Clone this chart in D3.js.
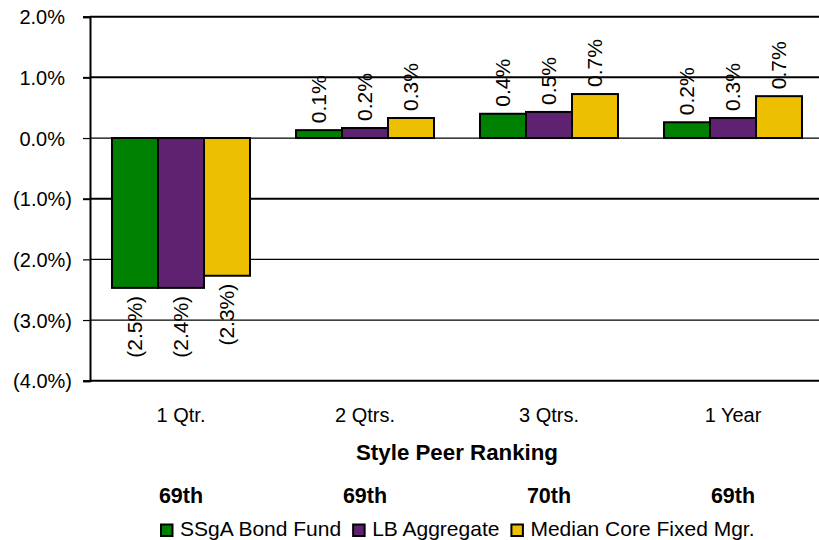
<!DOCTYPE html>
<html>
<head>
<meta charset="utf-8">
<script src="https://cdn.jsdelivr.net/npm/d3@7"></script>
<style>
  html, body { margin: 0; padding: 0; background: #fff; }
  svg { display: block; font-family: "Liberation Sans", Arial, sans-serif; }
</style>
</head>
<body>
<svg id="chart" width="819" height="540"></svg>
<script>
// ---- data ----
const categories = ["1 Qtr.", "2 Qtrs.", "3 Qtrs.", "1 Year"];
const seriesNames = ["SSgA Bond Fund", "LB Aggregate", "Median Core Fixed Mgr."];
const ssgaValues   = [-2.47, 0.13, 0.40, 0.26];
const lbValues     = [-2.47, 0.165, 0.43, 0.33];
const medianValues = [-2.27, 0.33, 0.725, 0.69];
const ssgaLabels   = ["(2.5%)", "0.1%", "0.4%", "0.2%"];
const lbLabels     = ["(2.4%)", "0.2%", "0.5%", "0.3%"];
const medianLabels = ["(2.3%)", "0.3%", "0.7%", "0.7%"];
const rankings     = ["69th", "69th", "70th", "69th"];
const yTicks       = [2, 1, 0, -1, -2, -3, -4];
const rankingTitle = "Style Peer Ranking";
const colors = ["#008000", "#5E2270", "#ECC000"];

const seriesValues = [ssgaValues, lbValues, medianValues];
const seriesLabels = [ssgaLabels, lbLabels, medianLabels];

const svg = d3.select("#chart");
const W = 819;
const axisX = 90;
const y = d3.scaleLinear().domain([-4, 2]).range([380.7, 16.7]);
const x0 = d3.scaleBand().domain(categories).range([89, 825]);
const x1 = d3.scaleBand().domain(seriesNames).range([0, x0.bandwidth()]).paddingOuter(0.5);

const fmt = v => v < 0 ? "(" + Math.abs(v).toFixed(1) + "%)" : v.toFixed(1) + "%";
const thick = new Set([2, 1, -1, -4]);

// gridlines
svg.append("g").selectAll("line").data(yTicks).join("line")
  .attr("x1", axisX).attr("x2", W)
  .attr("y1", d => y(d)).attr("y2", d => y(d))
  .attr("stroke", "#000")
  .attr("stroke-width", d => thick.has(d) ? 2 : 1.2);

// y axis
const yAxis = d3.axisLeft(y).tickValues(yTicks).tickSize(7).tickFormat(fmt);
const ga = svg.append("g").attr("transform", `translate(${axisX},0)`).call(yAxis);
ga.select(".domain").attr("stroke", "#000").attr("stroke-width", 2);
ga.selectAll(".tick line").attr("stroke", "#000").attr("stroke-width", d => thick.has(d) ? 2 : 1.2);
ga.selectAll(".tick text")
  .attr("font-size", 20).attr("fill", "#000")
  .attr("font-family", "Liberation Sans, Arial, sans-serif")
  .attr("x", d => d < 0 ? -18 : -25)
  .attr("dy", "0.35em");

// bars
const groups = svg.append("g").selectAll("g").data(categories).join("g")
  .attr("transform", d => `translate(${x0(d)},0)`);

const barData = (c, ci) => seriesNames.map((s, si) => ({
  s, si, v: seriesValues[si][ci], label: seriesLabels[si][ci]
}));

groups.each(function(c, ci) {
  const g = d3.select(this);
  const data = barData(c, ci);
  g.selectAll("rect").data(data).join("rect")
    .attr("x", d => x1(d.s))
    .attr("width", x1.bandwidth())
    .attr("y", d => y(Math.max(0, d.v)))
    .attr("height", d => Math.abs(y(d.v) - y(0)))
    .attr("fill", d => colors[d.si])
    .attr("stroke", "#000").attr("stroke-width", 2);
  g.selectAll("text").data(data).join("text")
    .attr("transform", d => {
      const cx = x1(d.s) + x1.bandwidth() / 2;
      const yy = d.v >= 0 ? y(d.v) - 7 : y(d.v) + 8;
      return `translate(${cx},${yy}) rotate(-90)`;
    })
    .attr("text-anchor", d => d.v >= 0 ? "start" : "end")
    .attr("dy", "0.35em")
    .attr("font-size", 21)
    .attr("fill", "#000")
    .text(d => d.label);
});

// category labels
svg.append("g").selectAll("text").data(categories).join("text")
  .attr("x", d => x0(d) + x0.bandwidth() / 2)
  .attr("y", 421.7)
  .attr("text-anchor", "middle")
  .attr("font-size", 20)
  .text(d => d);

// ranking title
svg.append("text")
  .attr("x", (x0.range()[0] + x0.range()[1]) / 2)
  .attr("y", 460)
  .attr("text-anchor", "middle")
  .attr("font-size", 22.3).attr("font-weight", "bold")
  .text(rankingTitle);

// rankings
svg.append("g").selectAll("text").data(rankings).join("text")
  .attr("x", (d, i) => x0(categories[i]) + x0.bandwidth() / 2)
  .attr("y", 503)
  .attr("text-anchor", "middle")
  .attr("font-size", 21.5).attr("font-weight", "bold")
  .text(d => d);

// legend
const leg = svg.append("g");
let lx = 160;
seriesNames.forEach((name, i) => {
  leg.append("rect").attr("x", lx + 1).attr("y", 524.5).attr("width", 11.5).attr("height", 11.5)
    .attr("fill", colors[i]).attr("stroke", "#000").attr("stroke-width", 2);
  const t = leg.append("text").attr("x", lx + 20).attr("y", 535.7)
    .attr("font-size", 21).text(name);
  lx += 20 + t.node().getComputedTextLength() + 11;
});
</script>
</body>
</html>
